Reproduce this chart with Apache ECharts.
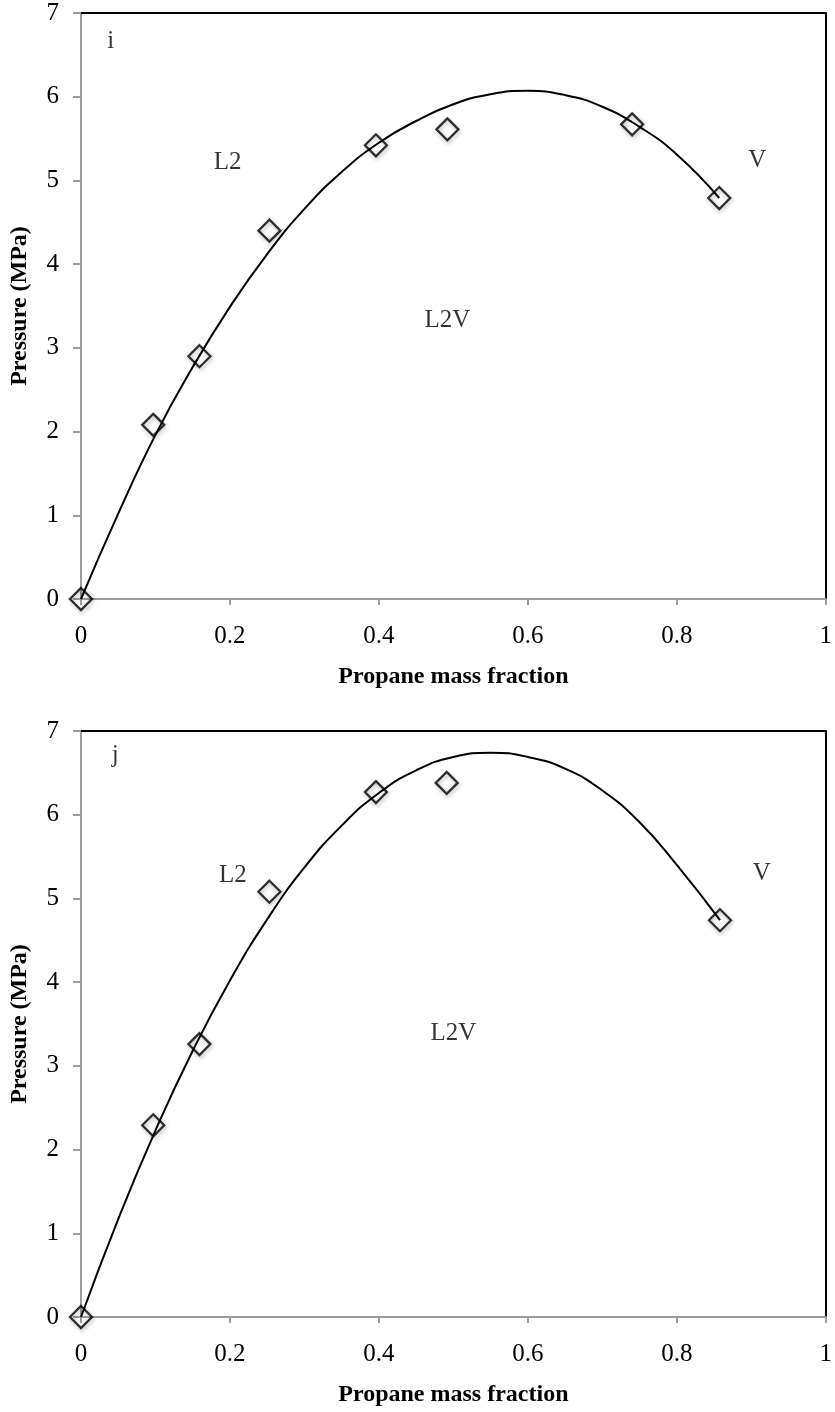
<!DOCTYPE html>
<html>
<head>
<meta charset="utf-8">
<script src="https://cdn.jsdelivr.net/npm/echarts@6/dist/echarts.min.js"></script>
<style>html,body{margin:0;padding:0;background:#fff}#c{width:835px;height:1412px}</style>
</head>
<body>
<div id="c"></div>
<script>
// ---- Data ----
const xTickLabels = ['0', '0.2', '0.4', '0.6', '0.8', '1'];
const yTickLabels = ['0', '1', '2', '3', '4', '5', '6', '7'];

// Panel i – measured points
const fracI = [0, 0.097, 0.159, 0.253, 0.396, 0.492, 0.740, 0.857];
const presI = [0, 2.08, 2.90, 4.40, 5.42, 5.61, 5.67, 4.79];
// Panel i – fitted curve
const curveXI = [0, 0.05, 0.1, 0.15, 0.2, 0.25, 0.3, 0.35, 0.4, 0.45, 0.5, 0.55, 0.6, 0.65, 0.7, 0.75, 0.8, 0.857];
const curveYI = [0, 1.02, 1.96, 2.77, 3.49, 4.12, 4.66, 5.10, 5.45, 5.71, 5.91, 6.03, 6.07, 6.02, 5.88, 5.64, 5.31, 4.79];

// Panel j – measured points
const fracJ = [0, 0.097, 0.159, 0.253, 0.396, 0.491, 0.858];
const presJ = [0, 2.29, 3.26, 5.08, 6.27, 6.38, 4.74];
// Panel j – fitted curve
const curveXJ = [0, 0.05, 0.1, 0.15, 0.2, 0.25, 0.3, 0.35, 0.4, 0.45, 0.5, 0.55, 0.6, 0.65, 0.7, 0.75, 0.8, 0.858];
const curveYJ = [0, 1.17, 2.23, 3.18, 4.02, 4.75, 5.37, 5.87, 6.26, 6.53, 6.69, 6.74, 6.69, 6.55, 6.29, 5.91, 5.40, 4.74];

// Region annotations [text, x, y]
const notesI = [['i', 0.040, 6.66], ['L2', 0.197, 5.21], ['L2V', 0.492, 3.33], ['V', 0.908, 5.24]];
const notesJ = [['j', 0.046, 6.71], ['L2', 0.204, 5.28], ['L2V', 0.500, 3.39], ['V', 0.914, 5.30]];

const xTitle = 'Propane mass fraction';
const yTitle = 'Pressure (MPa)';

// ---- Chart ----
const SERIF = '"Liberation Serif", "DejaVu Serif", serif';
const GRAY = '#9c9c9c';
const zip = (a, b) => a.map((v, i) => [v, b[i]]);

function axesFor(g) {
  const xs = [
    {
      gridIndex: g, type: 'value', min: 0, max: 1, interval: 0.2, position: 'bottom',
      name: xTitle, nameLocation: 'middle', nameGap: 66,
      nameTextStyle: { fontFamily: SERIF, fontWeight: 'bold', fontSize: 24, color: '#000' },
      axisLine: { show: true, lineStyle: { color: GRAY, width: 2 } },
      axisTick: { show: true, inside: false, length: 6, lineStyle: { color: GRAY, width: 2 } },
      axisLabel: { fontFamily: SERIF, fontSize: 25, color: '#000', margin: 25,
        formatter: v => xTickLabels[Math.round(v / 0.2)] },
      splitLine: { show: false }
    },
    {
      gridIndex: g, type: 'value', min: 0, max: 1, position: 'top',
      axisLine: { show: true, onZero: false, lineStyle: { color: '#000', width: 2 } },
      axisTick: { show: false }, axisLabel: { show: false }, splitLine: { show: false }
    }
  ];
  const ys = [
    {
      gridIndex: g, type: 'value', min: 0, max: 7, interval: 1, position: 'left',
      name: yTitle, nameLocation: 'middle', nameGap: 49, nameRotate: 90,
      nameTextStyle: { fontFamily: SERIF, fontWeight: 'bold', fontSize: 24, color: '#000' },
      axisLine: { show: true, lineStyle: { color: GRAY, width: 2 } },
      axisTick: { show: true, inside: false, length: 8, lineStyle: { color: GRAY, width: 2 } },
      axisLabel: { fontFamily: SERIF, fontSize: 25, color: '#000', margin: 22,
        formatter: v => yTickLabels[Math.round(v)] },
      splitLine: { show: false }
    },
    {
      gridIndex: g, type: 'value', min: 0, max: 7, position: 'right',
      axisLine: { show: true, onZero: false, lineStyle: { color: '#000', width: 2 } },
      axisTick: { show: false }, axisLabel: { show: false }, splitLine: { show: false }
    }
  ];
  return { xs, ys };
}

const a0 = axesFor(0), a1 = axesFor(1);

function panelSeries(g, cx, cy, fx, fy, notes) {
  const xi = g * 2, yi = g * 2;
  return [
    {
      type: 'line', xAxisIndex: xi, yAxisIndex: yi, data: zip(cx, cy),
      smooth: 0.5, showSymbol: false, silent: true,
      lineStyle: { color: '#000', width: 2 }, z: 2
    },
    {
      type: 'scatter', xAxisIndex: xi, yAxisIndex: yi, data: zip(fx, fy),
      symbol: 'diamond', symbolSize: 22, clip: false, z: 3,
      itemStyle: { color: 'rgba(255,255,255,0)', borderColor: '#000', borderWidth: 2.3,
        shadowBlur: 4, shadowColor: 'rgba(0,0,0,0.35)', shadowOffsetX: 1, shadowOffsetY: 2 }
    },
    {
      type: 'scatter', xAxisIndex: xi, yAxisIndex: yi, symbolSize: 0, silent: true, z: 4,
      data: notes.map(n => ({ name: n[0], value: [n[1], n[2]] })),
      label: { show: true, position: 'inside', formatter: p => p.name,
        fontFamily: SERIF, fontSize: 25, color: '#000' }
    }
  ];
}

const chart = echarts.init(document.getElementById('c'), null, { renderer: 'canvas' });
chart.setOption({
  animation: false,
  backgroundColor: '#fff',
  grid: [
    { left: 79.5, top: 13, width: 753, height: 586 },
    { left: 79.5, top: 731, width: 753, height: 586 }
  ],
  xAxis: [...a0.xs, ...a1.xs],
  yAxis: [...a0.ys, ...a1.ys],
  series: [
    ...panelSeries(0, curveXI, curveYI, fracI, presI, notesI),
    ...panelSeries(1, curveXJ, curveYJ, fracJ, presJ, notesJ)
  ]
});
</script>
</body>
</html>
